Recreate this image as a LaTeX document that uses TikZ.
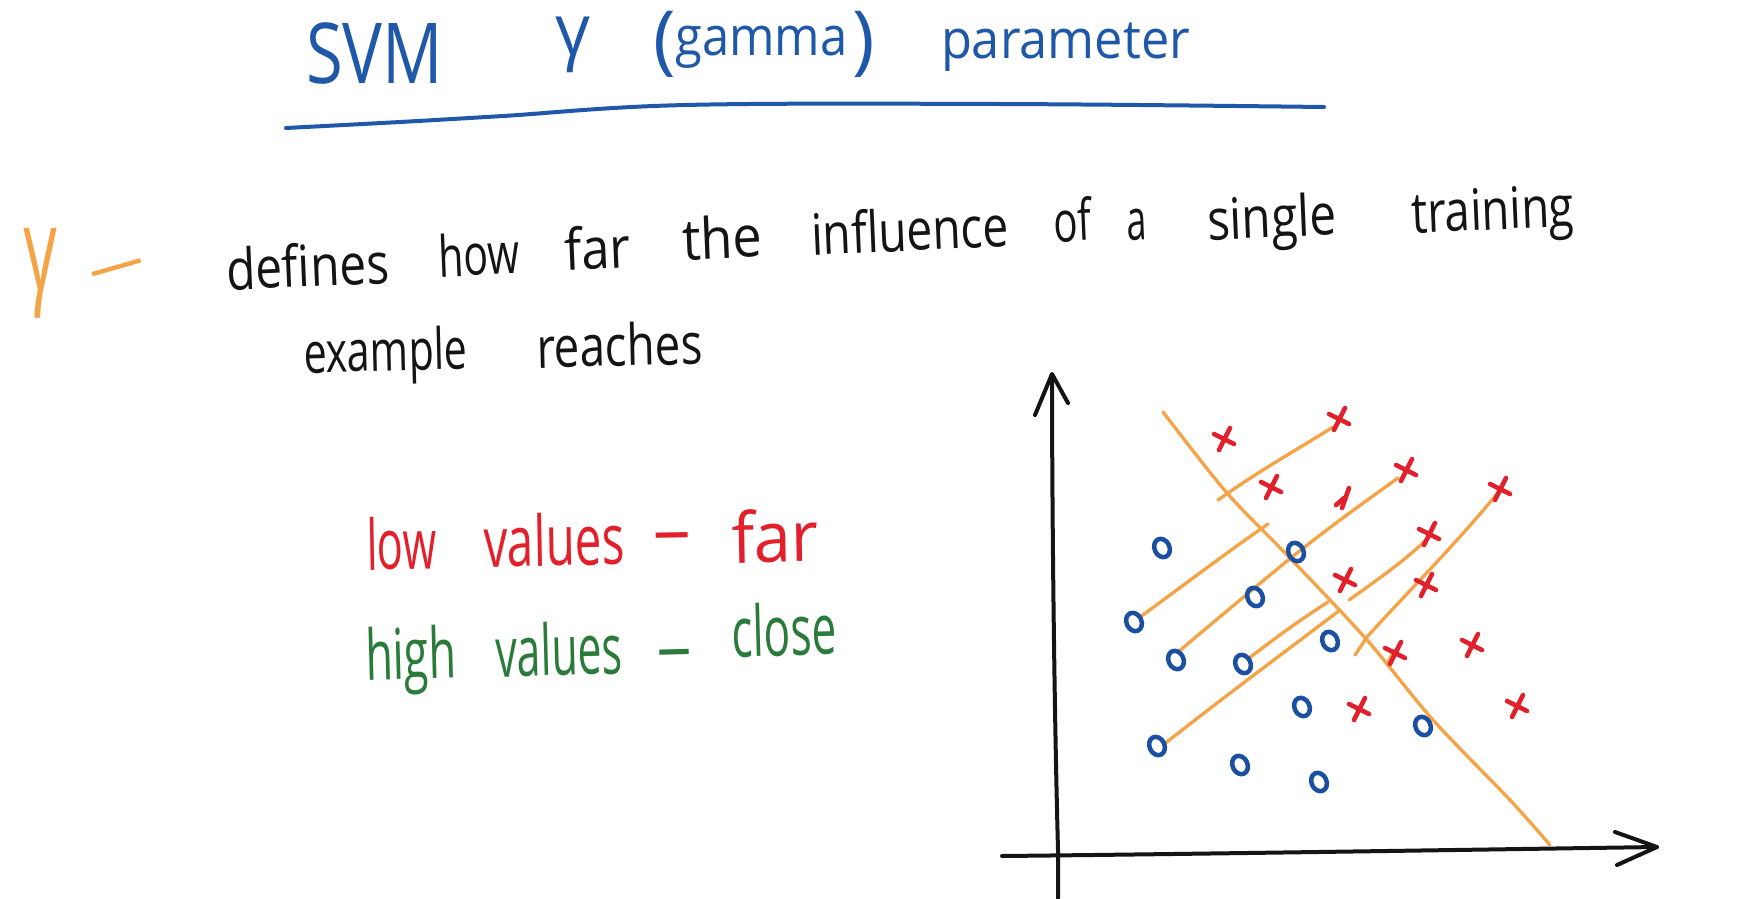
\documentclass[tikz,border=0pt]{standalone}
\usepackage{fontspec}
\setmainfont{Open Sans}
\usepackage{graphicx}
\usetikzlibrary{shapes.geometric}
\definecolor{tblue}{HTML}{1F58A8}
\definecolor{pred}{HTML}{E2202B}
\definecolor{pgreen}{HTML}{2A7A3A}
\definecolor{porange}{HTML}{F4A447}
\definecolor{pblue}{HTML}{1A4FA2}
\definecolor{ink}{HTML}{141414}
\newcommand{\hw}[2]{\resizebox{#1pt}{\height}{#2}}
\tikzset{
  word/.style={anchor=base west, inner sep=0pt, outer sep=0pt},
  titlew/.style={word, text=tblue, font=\fontsize{54}{54}\selectfont},
  bodyw/.style={word, text=ink, font=\fontsize{57}{57}\selectfont, rotate=2.4},
  loww/.style={word, text=pred, font=\fontsize{70}{70}\selectfont, rotate=1},
  highw/.style={word, text=pgreen, font=\fontsize{70}{70}\selectfont, rotate=1.5},
  axisline/.style={draw=ink, line width=4pt},
  sepline/.style={draw=porange, line width=3.3pt},
  omark/.style={shape=ellipse, draw=pblue, line width=4.5pt, minimum width=15pt, minimum height=19pt, inner sep=0pt, rotate=25},
  xm/.pic={\draw[pred, line width=4.6pt] (-10,-5) -- (10,5) (-5,11) -- (6,-11);}
}
\begin{document}
\begin{tikzpicture}[x=1pt, y=-1pt, line cap=round, line join=round]
\fill[white] (0,0) rectangle (1764,898);
\useasboundingbox (0,0) rectangle (1764,898);

% ---- title ----
\node[titlew, font=\fontsize{84}{84}\selectfont] (tsvm) at (306,83) {\hw{137}{SVM}};
\node[titlew, font=\fontsize{72}{72}\selectfont] (tgam) at (555,55) {\hw{35}{γ}};
\node[titlew] (tgname) at (653,55) {{\fontsize{76}{76}\selectfont\raisebox{-10pt}{(}}\hw{172}{gamma}\hspace{5pt}{\fontsize{76}{76}\selectfont\raisebox{-10pt}{)}}};
\node[titlew] (tpar) at (941,58) {\hw{249}{parameter}};
\draw[draw=tblue, line width=4pt] plot[smooth, tension=0.6] coordinates {(286,128) (400,122) (503,116) (685,105) (1000,104) (1324,107)};

% ---- gamma definition ----
\node[anchor=north west, inner sep=0pt, text=porange, font=\fontsize{80}{80}\selectfont] (ggam) at (23,228) {\resizebox*{34pt}{90pt}{γ}};
\node[anchor=center, inner sep=0pt, text=porange, font=\fontsize{60}{60}\selectfont, rotate=16] (gdash) at (119,274) {\hw{60}{–}};

\node[bodyw] (w1) at (227,290) {\hw{163}{defines}};
\node[bodyw] (w2) at (439,277) {\hw{81}{how}};
\node[bodyw] (w3) at (565,270) {\hw{66}{far}};
\node[bodyw] (w4) at (683,260) {\hw{80}{the}};
\node[bodyw] (w5) at (812,255) {\hw{198}{influence}};
\node[bodyw] (w6) at (1054,242) {\hw{38}{of}};
\node[bodyw] (w7) at (1127,240) {\hw{20}{a}};
\node[bodyw] (w8) at (1208,240) {\hw{129}{single}};
\node[bodyw] (w9) at (1412,233) {\hw{163}{training}};
\node[bodyw, rotate=-1] (w10) at (304,373) {\hw{164}{example}};
\node[bodyw, rotate=-1] (w11) at (537,368) {\hw{166}{reaches}};

% ---- low / high ----
\node[loww] (l1) at (367,570) {\hw{70}{low}};
\node[loww] (l2) at (484,567) {\hw{141}{values}};
\node[loww] (l3) at (653,554) {\hw{38}{–}};
\node[loww] (l4) at (732,563) {\hw{87}{far}};
\node[highw] (h1) at (366,680) {\hw{91}{high}};
\node[highw] (h2) at (496,677) {\hw{127}{values}};
\node[highw] (h3) at (657,671) {\hw{35}{–}};
\node[highw] (h4) at (732,657) {\hw{105}{close}};

% ---- axes ----
\draw[axisline] (1058,898) -- (1058,850) .. controls (1054,700) and (1052,500) .. (1052,375);
\draw[axisline] (1035,415) -- (1052,374) -- (1068,403);
\draw[axisline] (1002,856) .. controls (1200,854) and (1450,850) .. (1657,847);
\draw[axisline] (1615,832) -- (1657,847) -- (1617,865);

% ---- orange lines ----
\draw[sepline] plot[smooth, tension=0.5] coordinates {(1163,412) (1227,493) (1290,558) (1367,640) (1433,720) (1510,800) (1550,845)};
\draw[sepline] (1218,500) .. controls (1260,470) and (1300,448) .. (1333,427);
\draw[sepline] (1140,617) .. controls (1180,588) and (1230,550) .. (1268,524);
\draw[sepline] plot[smooth, tension=0.5] coordinates {(1178,652) (1240,600) (1292,557) (1340,520) (1398,478)};
\draw[sepline] (1248,659) .. controls (1275,638) and (1300,620) .. (1328,602);
\draw[sepline] (1163,745) .. controls (1220,700) and (1290,648) .. (1340,610);
\draw[sepline] (1349,600) .. controls (1380,578) and (1405,560) .. (1425,541);
\draw[sepline] (1355,655) -- (1367,637) .. controls (1400,600) and (1460,540) .. (1500,490);
\draw[sepline] (1387,665) -- (1394,650);

% ---- data: circles ----
\node[omark] (o1) at (1162,548) {};
\node[omark] (o2) at (1296,552) {};
\node[omark] (o3) at (1255,597) {};
\node[omark] (o4) at (1134,622) {};
\node[omark] (o5) at (1176,660) {};
\node[omark] (o6) at (1243,664) {};
\node[omark] (o7) at (1330,641) {};
\node[omark] (o8) at (1302,707) {};
\node[omark] (o9) at (1423,726) {};
\node[omark] (o10) at (1157,746) {};
\node[omark] (o11) at (1240,765) {};
\node[omark] (o12) at (1319,782) {};

% ---- data: crosses ----
\pic (x1) at (1224,439) {xm};
\pic (x2) at (1339,419) {xm};
\pic (x3) at (1271,487) {xm};
\draw[pred, line width=4.6pt] (1336,505) -- (1344,498) (1342,508) -- (1349,488);
\pic (x5) at (1406,470) {xm};
\pic (x6) at (1500,489) {xm};
\pic (x7) at (1429,534) {xm};
\pic (x8) at (1345,580) {xm};
\pic (x9) at (1426,585) {xm};
\pic (x10) at (1395,653) {xm};
\pic (x11) at (1472,645) {xm};
\pic (x12) at (1359,709) {xm};
\pic (x13) at (1517,706) {xm};
\end{tikzpicture}
\end{document}
